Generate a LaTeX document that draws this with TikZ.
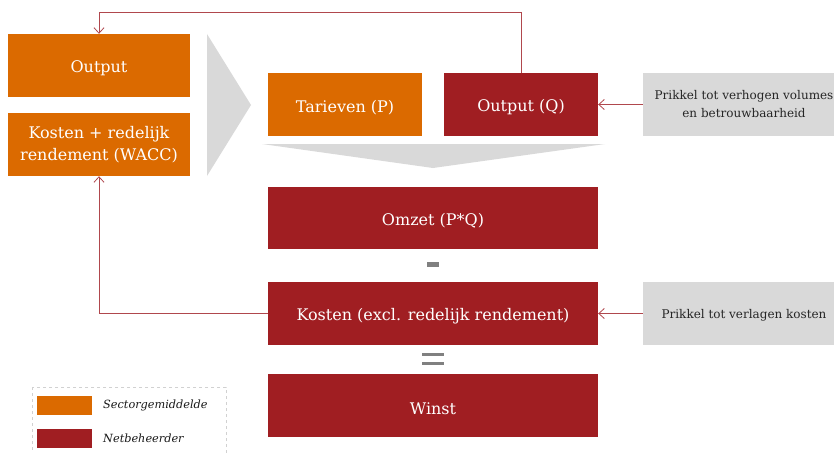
\documentclass[tikz,border=0pt]{standalone}
\usepackage{fontspec}
\setmainfont{DejaVu Serif}
\usetikzlibrary{arrows.meta}
\definecolor{orng}{HTML}{DB6A00}
\definecolor{rd}{HTML}{A01E22}
\definecolor{lg}{HTML}{D9D9D9}
\definecolor{ln}{HTML}{B0474D}
\definecolor{sg}{HTML}{808080}
\begin{document}
\begin{tikzpicture}[x=1pt,y=-1pt,
  box/.style={minimum height=63pt, inner sep=0pt, align=center,
    font=\fontsize{16}{22}\selectfont, text=white,
    execute at begin node={\rule{0pt}{17.5pt}}},
  obox/.style={box, fill=orng},
  rbox/.style={box, fill=rd},
  gbox/.style={minimum height=63pt, inner sep=0pt, align=center,
    fill=lg, text=black!85, font=\fontsize{12}{18}\selectfont,
    execute at begin node={\rule{0pt}{13pt}}},
  conn/.style={draw=ln, line width=0.8pt},
  tip/.style={-{Straight Barb[length=5.5pt,width=10pt,line width=0.8pt]}},
  sign/.style={fill=sg, draw=none},
  legtxt/.style={anchor=west, inner sep=0pt, font=\fontsize{11.3}{13}\selectfont\itshape, text=black!90}
]
\useasboundingbox (0,0) rectangle (834,452);
\clip (0,0) rectangle (834,452);
% gray arrows
\fill[lg] (207,34) -- (251,105) -- (207,176) -- cycle;
\fill[lg] (262,144) -- (605,144) -- (433,168) -- cycle;
% boxes
\node[obox, minimum width=182pt] (out) at (99,65.5) {Output};
\node[obox, minimum width=182pt] (wacc) at (99,144.5) {Kosten + redelijk\\rendement (WACC)};
\node[obox, minimum width=154pt] (tar) at (345,104.5) {Tarieven (P)};
\node[rbox, minimum width=154pt] (outq) at (521,104.5) {Output (Q)};
\node[rbox, minimum width=330pt, minimum height=62pt] (omzet) at (433,218) {Omzet (P*Q)};
\node[rbox, minimum width=330pt] (kosten) at (433,313.5) {Kosten (excl. redelijk rendement)};
\node[rbox, minimum width=330pt] (winst) at (433,405.5) {Winst};
\node[gbox, minimum width=202pt] (p1) at (744,104.5) {Prikkel tot verhogen volumes\\en betrouwbaarheid};
\node[gbox, minimum width=202pt] (p2) at (744,313.5) {Prikkel tot verlagen kosten};
% signs
\fill[sign] (427,262) rectangle (439,266.5);
\fill[sign] (422,352.5) rectangle (444,356);
\fill[sign] (422,361.5) rectangle (444,365);
% connectors
\draw[conn, tip] (outq.north) -- ++(0,-60) -| (out.north);
\draw[conn, tip] (kosten.west) -| (wacc.south);
\draw[conn, tip] (p1.west) -- (outq.east);
\draw[conn, tip] (p2.west) -- (kosten.east);
% legend
\draw[draw=black!18, dashed, line width=0.6pt] (32,387) rectangle (226,470);
\node[fill=orng, minimum width=55pt, minimum height=19pt, inner sep=0pt] (lo) at (64.5,405.5) {};
\node[fill=rd, minimum width=55pt, minimum height=19pt, inner sep=0pt] (lr) at (64.5,438.5) {};
\node[legtxt] (lot) at (103,405.5) {Sectorgemiddelde};
\node[legtxt] (lrt) at (103,438.5) {Netbeheerder};
\end{tikzpicture}
\end{document}
